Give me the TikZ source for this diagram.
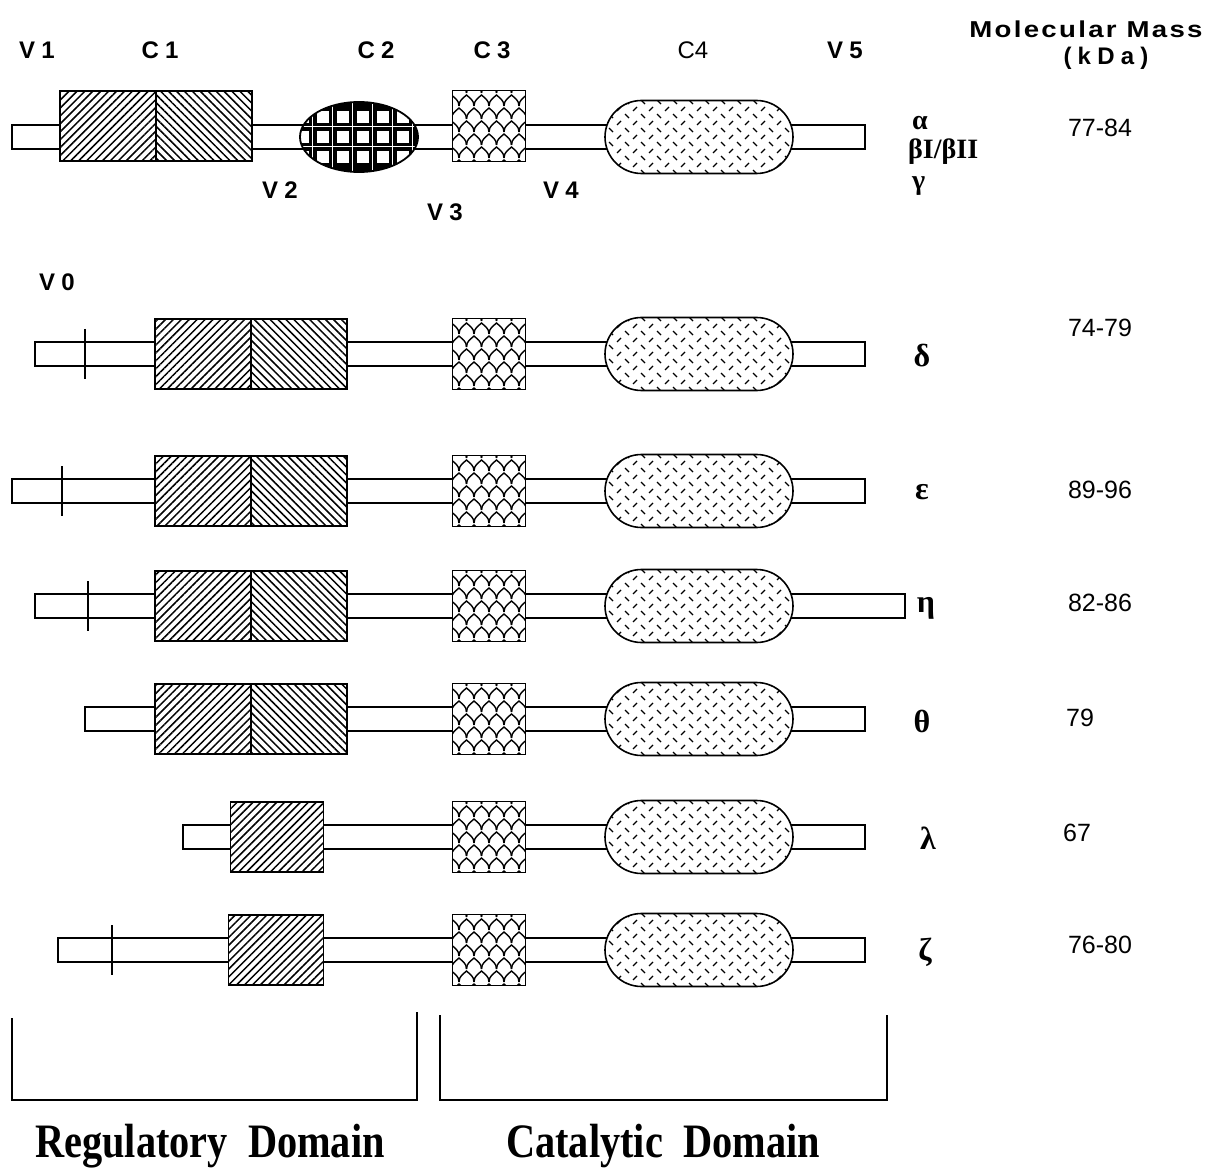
\documentclass[tikz,border=0pt]{standalone}
\usepackage{fontspec}
\setmainfont{Liberation Serif}
\setsansfont{Liberation Sans}
\usetikzlibrary{positioning,patterns.meta,shapes.geometric,shapes.misc}
\newcommand{\hdr}{\sffamily\bfseries\fontsize{24}{26}\selectfont\addfontfeatures{LetterSpace=26}}
\newcommand{\mmass}{\sffamily\bfseries\fontsize{23}{26}\selectfont\addfontfeatures{FakeStretch=1.2,LetterSpace=10}}
\newcommand{\kdafont}{\sffamily\fontsize{25}{28}\selectfont}
\newcommand{\isofont}{\rmfamily\bfseries\fontsize{32}{34}\selectfont}
\newcommand{\abgfont}{\rmfamily\bfseries\fontsize{28}{30}\selectfont}
\newcommand{\domfont}{\rmfamily\bfseries\fontsize{48}{52}\selectfont\addfontfeatures{FakeStretch=0.84}}
% textures drawn inside the C2, C3 and C4 domains
\newcommand{\gridtex}{%
 \begin{scope}[shift={(path picture bounding box.center)}]
  \foreach \i in {-3,...,3}{\foreach \j in {-1,0,1}{
   \fill[white] ({\i*20+3.5-6},{\j*20-6}) rectangle ({\i*20+3.5+6},{\j*20+6});}}
  \foreach \i in {-3,...,2} \draw[white,line width=1pt] ({\i*20+13.5},-45) -- ({\i*20+13.5},45);
  \foreach \j in {-1,0} \draw[white,line width=1pt] (-70,{\j*20+10}) -- (70,{\j*20+10});
 \end{scope}}
\newcommand{\scaletex}{%
 \begin{scope}[shift={(path picture bounding box.center)},line width=1.4pt]
  \foreach \r in {0,...,6}{\foreach \c in {-3,...,3}{
   \draw ({\c*15+mod(\r,2)*7.5-7.5},{(\r-3)*13+6}) .. controls +(0,-6) and +(-3,3) .. ++(7.5,-11)
         .. controls +(3,3) and +(0,-6) .. ++(7.5,11);}}
 \end{scope}}
\newcommand{\dashtex}{%
 \begin{scope}[shift={(path picture bounding box.center)},line width=1.3pt]
  \foreach \i in {-7,...,7}{\foreach \j in {-3,...,3}{
   \draw ({\i*16-2},{\j*14+2}) -- ++(4,-4);
   \draw ({\i*16+6},{\j*14+5}) -- ++(4,4);}}
 \end{scope}}

\begin{document}
\begin{tikzpicture}[x=1pt,y=-1pt,
 bar/.style={draw,line width=1.5pt,fill=white},
 c1ne/.style={draw,line width=1.8pt,inner sep=0pt,outer sep=0pt,minimum width=96pt,minimum height=70pt,
  preaction={fill=white},pattern={Lines[angle=45,distance=5.6pt,line width=1.5pt]}},
 c1nw/.style={c1ne,pattern={Lines[angle=-45,distance=5.6pt,line width=1.5pt]}},
 c2box/.style={ellipse,draw,line width=1.8pt,fill=black,inner sep=0pt,minimum width=118pt,minimum height=70pt,path picture={\gridtex}},
 c3box/.style={draw,line width=1.8pt,fill=white,inner sep=0pt,minimum width=73pt,minimum height=71pt,path picture={\scaletex}},
 c4box/.style={rounded rectangle,draw,line width=1.6pt,fill=white,inner sep=0pt,minimum width=188pt,minimum height=73pt,path picture={\dashtex}},
 v0mark/.style={line width=1.4pt},
 bracket/.style={line width=1.3pt},
 lbl/.style={inner sep=0pt}]
 \path[use as bounding box,fill=white] (0,0) rectangle (1211,1174);

 % alpha, betaI/betaII, gamma
 \draw[bar] (12,125) rectangle (865,149);
 \node[c1ne] (c1La) at (108,126) {};
 \node[c1nw,right=0pt of c1La] (c1Ra) {};
 \node[c2box] (c2a) at (359,137) {};
 \node[c3box] (c3a) at (489,126) {};
 \node[c4box] (c4a) at (699,137) {};

 % other isoforms
 \foreach \n/\y/\xl/\xr in {d/354/35/865,e/491/12/865,h/606/35/905,t/719/85/865,l/837/183/865,z/950/58/865}{
  \draw[bar] (\xl,\y-12) rectangle (\xr,\y+12);
  \node[c3box] (c3\n) at (489,\y) {};
  \node[c4box] (c4\n) at (699,\y) {};
 }
 \foreach \n/\y in {d/354,e/491,h/606,t/719}{
  \node[c1ne] (c1L\n) at (203,\y) {};
  \node[c1nw,right=0pt of c1L\n] (c1R\n) {};
 }
 \node[c1ne,minimum width=93pt] (c1Ll) at (277,837) {};
 \node[c1ne,minimum width=95pt] (c1Lz) at (276,950) {};
 \foreach \x/\y in {85/354,62/491,88/606,112/950}
  \draw[v0mark] (\x,\y-25) -- (\x,\y+25);

 % region labels
 \node[lbl,font=\hdr] (v1) at (37,50) {V1};
 \node[lbl,font=\hdr] (c1) at (160,50) {C1};
 \node[lbl,font=\hdr] (c2) at (376,50) {C2};
 \node[lbl,font=\hdr] (c3) at (492,50) {C3};
 \node[lbl,font=\sffamily\fontsize{24}{26}\selectfont] (c4) at (693,50) {C4};
 \node[lbl,font=\hdr] (v5) at (845,50) {V5};
 \node[lbl,font=\hdr] (v2) at (280,190) {V2};
 \node[lbl,font=\hdr] (v3) at (445,212) {V3};
 \node[lbl,font=\hdr] (v4) at (561,190) {V4};
 \node[lbl,font=\hdr] (v0) at (57,282) {V0};
 \node[lbl,font=\mmass] (mm) at (1086,29) {Molecular Mass};
 \node[lbl,font=\hdr] (kda) at (1106,58) {(kDa)};

 % isoforms and masses
 \node[lbl,font=\abgfont,anchor=west] (iso-a) at (912,123) {α};
 \node[lbl,font=\abgfont,anchor=west] (iso-b) at (908,152) {βI/βII};
 \node[lbl,font=\abgfont,anchor=west] (iso-g) at (912,186) {γ};
 \foreach \g/\y/\x in {δ/356/922,ε/492/922,η/608/926,θ/721/922,λ/838/928,ζ/952/925}
  \node[lbl,font=\isofont] at (\x,\y) {\g};
 \foreach \m/\y/\x in {77-84/128/1100,74-79/328/1100,89-96/490/1100,82-86/603/1100,79/718/1080,67/833/1077,76-80/945/1100}
  \node[lbl,font=\kdafont] at (\x,\y) {\m};

 % domains
 \draw[bracket] (12,1018) -- (12,1100) -- (417,1100) -- (417,1012);
 \draw[bracket] (440,1015) -- (440,1100) -- (887,1100) -- (887,1015);
 \node[lbl,font=\domfont] (reg) at (210,1146) {Regulatory\ \ Domain};
 \node[lbl,font=\domfont] (cat) at (663,1146) {Catalytic\ \ Domain};
\end{tikzpicture}
\end{document}
